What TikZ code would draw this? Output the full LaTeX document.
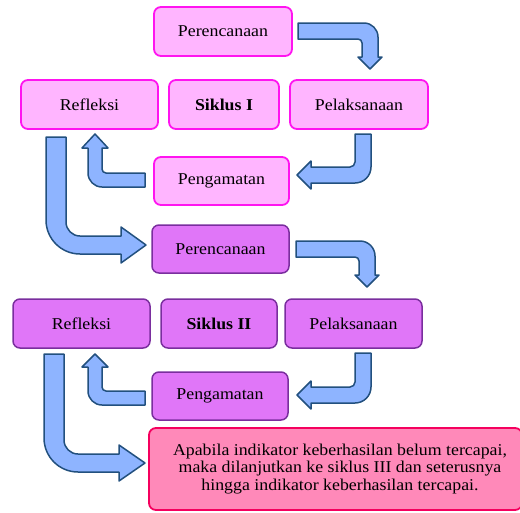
\documentclass[tikz,border=0pt]{standalone}
\usepackage{fontspec}
\setmainfont{Liberation Serif}[FakeStretch=1.08]
\definecolor{pinkfill}{HTML}{FFB5FF}
\definecolor{pinkline}{HTML}{FF14F0}
\definecolor{purpfill}{HTML}{E076F8}
\definecolor{purpline}{HTML}{7A2E9E}
\definecolor{notefill}{HTML}{FF89B9}
\definecolor{noteline}{HTML}{F5005E}
\definecolor{arrfill}{HTML}{8EB4FF}
\definecolor{arrline}{HTML}{22507E}
\begin{document}
\begin{tikzpicture}[x=1pt,y=1pt,
  box/.style={rectangle, rounded corners=7pt, inner sep=0pt, align=center,
    font=\fontsize{16.5}{19}\selectfont},
  cyc1/.style={box, fill=pinkfill, draw=pinkline, line width=1.8pt},
  cyc2/.style={box, fill=purpfill, draw=purpline, line width=1.5pt},
  notebox/.style={box, fill=notefill, draw=noteline, line width=1.8pt,
    font=\fontsize{16.5}{17.5}\selectfont},
  blockarrow/.style={fill=arrfill, draw=arrline, line width=1.5pt, line join=round}]
\useasboundingbox (0,0) rectangle (520,-512);
\clip (0,0) rectangle (520,-512);

% Siklus I
\node[cyc1, minimum width=138, minimum height=49] (p1) at (223,-31.5) {Perencanaan};
\node[cyc1, minimum width=137, minimum height=49] (r1) at (89.5,-104.5) {Refleksi};
\node[cyc1, minimum width=110, minimum height=49] (s1) at (224,-104.5) {\bfseries Siklus I};
\node[cyc1, minimum width=138, minimum height=49] (l1) at (359,-104.5) {Pelaksanaan};
\node[cyc1, minimum width=135, minimum height=48] (g1) at (221.5,-181) {Pengamatan};

% Siklus II
\node[cyc2, minimum width=137, minimum height=48] (p2) at (220.5,-249) {Perencanaan};
\node[cyc2, minimum width=137, minimum height=49] (r2) at (81.5,-323.5) {Refleksi};
\node[cyc2, minimum width=116, minimum height=49] (s2) at (219,-323.5) {\bfseries Siklus II};
\node[cyc2, minimum width=137, minimum height=49] (l2) at (353.5,-323.5) {Pelaksanaan};
\node[cyc2, minimum width=136, minimum height=48] (g2) at (220,-396) {Pengamatan};

% Note
\node[notebox, minimum width=373, minimum height=82] (note) at (335.5,-469)
  {\hspace*{9pt}Apabila indikator keberhasilan belum tercapai,\\
   \hspace*{9pt}maka dilanjutkan ke siklus III dan seterusnya\\
   \hspace*{9pt}hingga indikator keberhasilan tercapai.};

% Arrow p1 -> l1
\path[blockarrow] (298,-23) -- (364,-23) arc[start angle=90,end angle=0,radius=14]
  -- (378,-57) -- (382,-57) -- (370,-69) -- (358,-57) -- (362,-57)
  -- (362,-43) arc[start angle=0,end angle=90,radius=4] -- (298,-39) -- cycle;

% Arrow l1 -> g1
\path[blockarrow] (355,-134) -- (371,-134) -- (371,-167) arc[start angle=0,end angle=-90,radius=16]
  -- (311,-183) -- (311,-189) -- (297,-175) -- (311,-161) -- (311,-167)
  -- (350,-167) arc[start angle=-90,end angle=0,radius=5] -- cycle;

% Arrow g1 -> r1
\path[blockarrow] (145,-173) -- (106,-173) arc[start angle=-90,end angle=-180,radius=4]
  -- (102,-148) -- (108,-148) -- (95,-134) -- (82,-148) -- (88,-148)
  -- (88,-173) arc[start angle=180,end angle=270,radius=14] -- (145,-187) -- cycle;

% Arrow r1 -> p2
\path[blockarrow] (46,-137) -- (66,-137) -- (66,-222) arc[start angle=180,end angle=270,radius=14]
  -- (121,-236) -- (121,-227) -- (146,-245) -- (121,-263) -- (121,-254)
  -- (80,-254) arc[start angle=270,end angle=180,radius=34] -- cycle;

% Arrow p2 -> l2
\path[blockarrow] (296,-241) -- (360,-241) arc[start angle=90,end angle=0,radius=15]
  -- (375,-275) -- (379,-275) -- (367,-287) -- (355,-275) -- (359,-275)
  -- (359,-261) arc[start angle=0,end angle=90,radius=4] -- (296,-257) -- cycle;

% Arrow l2 -> g2
\path[blockarrow] (355,-353) -- (371,-353) -- (371,-387) arc[start angle=0,end angle=-90,radius=16]
  -- (311,-403) -- (311,-409) -- (297,-395) -- (311,-381) -- (311,-387)
  -- (350,-387) arc[start angle=-90,end angle=0,radius=5] -- cycle;

% Arrow g2 -> r2
\path[blockarrow] (145,-391) -- (106,-391) arc[start angle=-90,end angle=-180,radius=4]
  -- (102,-367) -- (108,-367) -- (95,-354) -- (82,-367) -- (88,-367)
  -- (88,-391) arc[start angle=180,end angle=270,radius=14] -- (145,-405) -- cycle;

% Arrow r2 -> note
\path[blockarrow] (44,-354) -- (64,-354) -- (64,-440) arc[start angle=180,end angle=270,radius=14]
  -- (119,-454) -- (119,-445) -- (145,-463) -- (119,-481) -- (119,-472)
  -- (78,-472) arc[start angle=270,end angle=180,radius=34] -- cycle;
\end{tikzpicture}
\end{document}
